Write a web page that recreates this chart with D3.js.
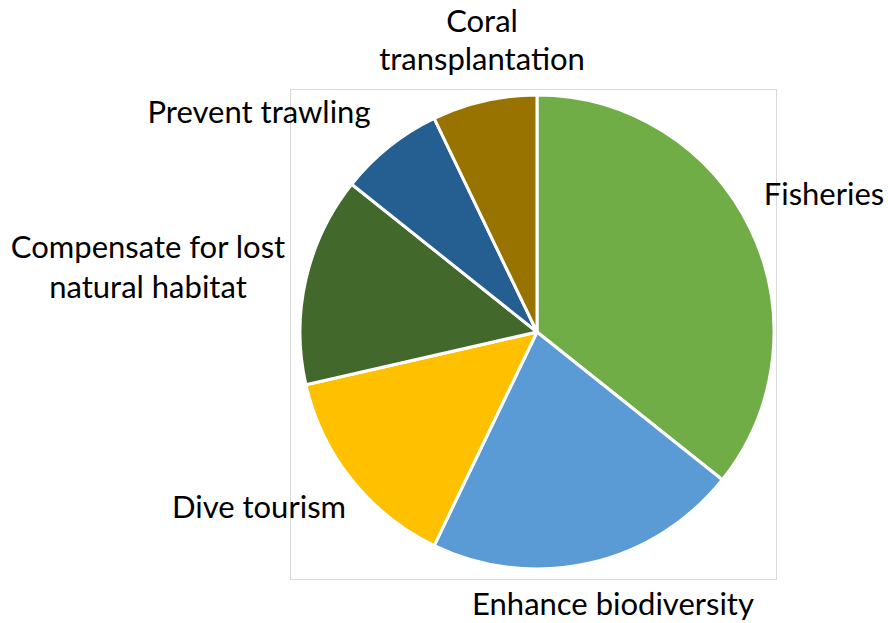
<!DOCTYPE html>
<html>
<head>
<meta charset="utf-8">
<script src="https://d3js.org/d3.v7.min.js"></script>
<style>
  html, body { margin: 0; padding: 0; background: #fff; }
  svg { display: block; }
  text { font-family: Lato, "Open Sans", sans-serif; fill: #000; }
</style>
</head>
<body>
<svg id="chart" width="888" height="623"></svg>
<script>
// ── Data ──
const categories = ['Fisheries', 'Enhance biodiversity', 'Dive tourism',
  'Compensate for lost natural habitat', 'Prevent trawling', 'Coral transplantation'];
const values = [5, 3, 2, 2, 1, 1];
const labelLines = [
  ['Fisheries'], ['Enhance biodiversity'], ['Dive tourism'],
  ['Compensate for lost', 'natural habitat'], ['Prevent trawling'], ['Coral', 'transplantation']
];

const colors = ['#70AD47', '#5B9BD5', '#FFC000', '#43682B', '#255E91', '#997300'];

// label anchors (centre x, first baseline y, line gap) — layout only
const labelAt = [
  [824, 205, 0], [613, 615, 0], [259, 518, 0], [148, 258, 40], [259, 123, 0], [482, 32, 38]
];

const cx = 537, cy = 332, R = 237;

const svg = d3.select('#chart');

// plot area border
svg.append('rect').attr('x', 290.5).attr('y', 89.5).attr('width', 486).attr('height', 490)
  .attr('fill', 'none').attr('stroke', '#d9d9d9').attr('stroke-width', 1);

const pie = d3.pie().sort(null).value(d => d)(values);
const arc = d3.arc().innerRadius(0).outerRadius(R);

const g = svg.append('g').attr('transform', `translate(${cx},${cy})`);
g.selectAll('path').data(pie).enter().append('path')
  .attr('d', arc)
  .attr('fill', (d, i) => colors[i])
  .attr('stroke', '#fff').attr('stroke-width', 3).attr('stroke-linejoin', 'round');

// labels
labelLines.forEach((lines, i) => {
  const [x, y, gap] = labelAt[i];
  const t = svg.append('text')
    .attr('x', x).attr('y', y)
    .attr('text-anchor', 'middle').attr('font-size', '31px');
  lines.forEach((ln, j) => {
    t.append('tspan').attr('x', x).attr('dy', j === 0 ? 0 : gap).text(ln);
  });
});
</script>
</body>
</html>
